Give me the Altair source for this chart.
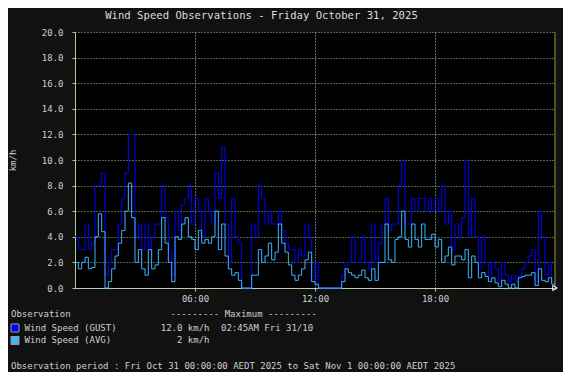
import altair as alt
import pandas as pd

# 10-minute samples from 00:00 to 24:00 (145 points)
gust = [
    4.0, 3.0, 3.0, 5.0, 3.0, 3.5, 8.0, 8.0, 9.0, 1.0, 2.0, 3.0,
    3.0, 5.0, 7.0, 9.0, 12.0, 12.0, 4.0, 5.0, 3.0, 5.0, 3.0, 4.0,
    5.0, 5.0, 8.0, 5.5, 3.0, 1.0, 6.0, 4.5, 6.5, 7.0, 8.0, 5.0,
    7.0, 6.0, 4.0, 7.0, 6.0, 5.0, 9.0, 7.0, 11.0, 5.0, 2.0, 7.0,
    4.0, 3.5, 0.0, 0.0, 0.0, 5.0, 4.0, 8.0, 7.0, 5.0, 6.0, 5.0,
    5.0, 6.0, 4.5, 3.5, 3.0, 3.0, 2.0, 3.0, 2.5, 5.0, 4.0, 0.5,
    2.0, 0.0, 0.0, 0.0, 0.0, 0.0, 0.0, 0.0, 1.0, 2.0, 2.0, 4.0,
    2.0, 2.0, 4.0, 2.0, 1.5, 5.0, 2.0, 3.5, 5.0, 7.0, 4.5, 5.0,
    5.0, 8.0, 10.0, 5.0, 5.0, 7.0, 6.0, 7.0, 7.0, 6.0, 7.0, 6.0,
    7.0, 6.0, 8.0, 5.0, 6.0, 3.0, 5.0, 4.0, 5.5, 10.0, 4.0, 7.0,
    4.0, 1.5, 4.0, 2.0, 1.0, 2.0, 1.5, 0.5, 2.0, 1.0, 0.5, 1.0,
    0.5, 1.0, 1.5, 2.0, 2.5, 3.0, 0.5, 6.0, 4.0, 1.0, 2.0, 0.5,
    0.0,
]
avg = [
    2.0, 1.5, 2.0, 2.4, 1.5, 1.6, 4.0, 5.8, 4.4, 0.0, 0.5, 1.5,
    2.5, 3.5, 4.5, 6.0, 8.2, 5.5, 2.0, 3.0, 1.5, 1.0, 3.0, 1.5,
    1.8, 3.0, 5.5, 3.5, 2.0, 0.5, 4.0, 3.8, 5.0, 5.5, 4.0, 3.8,
    3.0, 4.5, 3.5, 3.8, 3.5, 4.0, 6.0, 3.0, 5.0, 2.5, 1.5, 1.0,
    1.2, 0.6, 0.0, 0.0, 0.0, 1.0, 1.0, 3.0, 2.0, 2.5, 3.5, 2.2,
    2.8, 5.0, 3.5, 2.8, 1.8, 1.0, 0.6, 1.0, 1.5, 2.2, 2.8, 0.5,
    0.3, 0.0, 0.0, 0.0, 0.0, 0.0, 0.0, 0.0, 0.5, 1.5, 1.2, 1.0,
    0.8, 1.0, 1.4, 0.8, 0.6, 1.5, 0.6, 2.0, 2.0, 5.0, 2.2, 2.0,
    3.8, 4.0, 6.0, 3.8, 3.2, 5.0, 3.8, 3.2, 5.0, 3.8, 3.8, 4.2,
    3.2, 3.8, 2.0, 2.5, 3.2, 1.8, 2.5, 2.5, 2.2, 3.0, 0.8, 2.5,
    2.0, 0.8, 1.2, 0.9, 0.5, 0.8, 0.4, 0.1, 0.6, 0.3, 0.0, 0.3,
    0.0, 0.8, 0.9, 1.0, 1.0, 1.2, 0.2, 1.5, 0.6, 0.5, 0.8, 0.3,
    0.3,
]
minutes = list(range(0, 24 * 60 + 1, 10))

y_ticks = [0, 2, 4, 6, 8, 10, 12, 14, 16, 18, 20]
x_ticks = [6, 12, 18]

title_text = "Wind Speed Observations - Friday October 31, 2025"
legend_head = "Observation"
legend_max_head = "--------- Maximum ---------"
series_names = ["Wind Speed (GUST)", "Wind Speed (AVG)"]
series_max_val = ["12.0 km/h", "2 km/h"]
series_max_time = ["02:45AM Fri 31/10"]
period_text = "Observation period : Fri Oct 31 00:00:00 AEDT 2025 to Sat Nov 1 00:00:00 AEDT 2025"

GUST_C = "#0000ff"
AVG_C = "#3cb4ff"
TXT_C = "#cfcfcf"
GRID_C = "#9ccc88"
FONT = "DejaVu Sans Mono"

df_g = pd.DataFrame({"h": [m / 60 for m in minutes[:len(gust)]], "v": gust})
df_a = pd.DataFrame({"h": [m / 60 for m in minutes[:len(avg)]], "v": avg})

xenc = alt.X(
    "h:Q",
    scale=alt.Scale(domain=[0, 24], nice=False, zero=False),
    axis=alt.Axis(
        values=x_ticks, tickCount=20, title=None, labelOverlap=False,
        labelExpr="(datum.value < 10 ? '0' : '') + datum.value + ':00'",
        grid=True, gridColor="#cfd8c4", gridDash=[1, 2], gridOpacity=1,
        domainColor="#b4d0a8", tickColor="#b4d0a8", tickSize=3,
        labelColor=TXT_C, labelFont=FONT, labelFontSize=9, labelPadding=3,
    ),
)
yenc = alt.Y(
    "v:Q",
    scale=alt.Scale(domain=[0, 20], nice=False, zero=True),
    axis=alt.Axis(
        values=y_ticks, tickCount=20, format=".1f", title="km/h", labelOverlap=False,
        grid=True, gridColor=GRID_C, gridDash=[1, 2], gridOpacity=1,
        domainColor="#a8d090", tickColor="#a8d090", tickSize=3,
        labelColor=TXT_C, labelFont=FONT, labelFontSize=9, labelPadding=9,
        titleColor=TXT_C, titleFont=FONT, titleFontSize=9, titleFontWeight="normal",
        titlePadding=24,
    ),
)

gust_line = alt.Chart(df_g).mark_line(
    interpolate="step-after", color=GUST_C, strokeWidth=1
).encode(x=xenc, y=yenc)

avg_line = alt.Chart(df_a).mark_line(
    interpolate="step-after", color=AVG_C, strokeWidth=1
).encode(x=xenc, y=yenc)

right_edge = alt.Chart(pd.DataFrame({"h": [24]})).mark_rule(
    color="#9a9a30", strokeWidth=1
).encode(x="h:Q")

arrow = alt.Chart(pd.DataFrame({"h": [24]})).mark_point(
    shape="triangle-right", size=28, filled=False, color="#ffffff", strokeWidth=1, opacity=1
).encode(x="h:Q", y=alt.value(256))


def txt(s, x, y, align="left", size=9, color=TXT_C):
    return alt.Chart(pd.DataFrame({"t": [s]})).mark_text(
        align=align, baseline="middle", font=FONT, fontSize=size, color=color
    ).encode(text="t:N", x=alt.value(x), y=alt.value(y))


def sq(color, y):
    return alt.Chart(pd.DataFrame({"a": [0]})).mark_rect(
        color=color, stroke="#9a9a9a", strokeWidth=1
    ).encode(x=alt.value(-64), x2=alt.value(-56), y=alt.value(y), y2=alt.value(y + 8))


layers = [
    gust_line, avg_line, right_edge, arrow,
    txt(title_text, 186.5, -16, align="center", size=10.6, color="#dcdcdc"),
    txt(legend_head, -64, 282),
    txt(legend_max_head, 95.5, 282),
    sq(GUST_C, 292),
    sq(AVG_C, 304.5),
    txt(series_names[0], -50.5, 295.5),
    txt(series_names[1], -50.5, 308),
    txt(series_max_val[0], 134.5, 295.5, align="right"),
    txt(series_max_time[0], 146, 295.5),
    txt(series_max_val[1], 134.5, 308, align="right"),
    txt(period_text, -64, 334),
]

chart = alt.layer(*layers).properties(
    width=480, height=256,
    background="#111111",
    autosize=alt.AutoSizeParams(type="none"),
    padding={"left": 67, "top": 24, "right": 8, "bottom": 84},
).configure_view(fill="#000000", strokeWidth=0)

chart.save("out.html", embed_options={"renderer": "svg", "actions": False})
